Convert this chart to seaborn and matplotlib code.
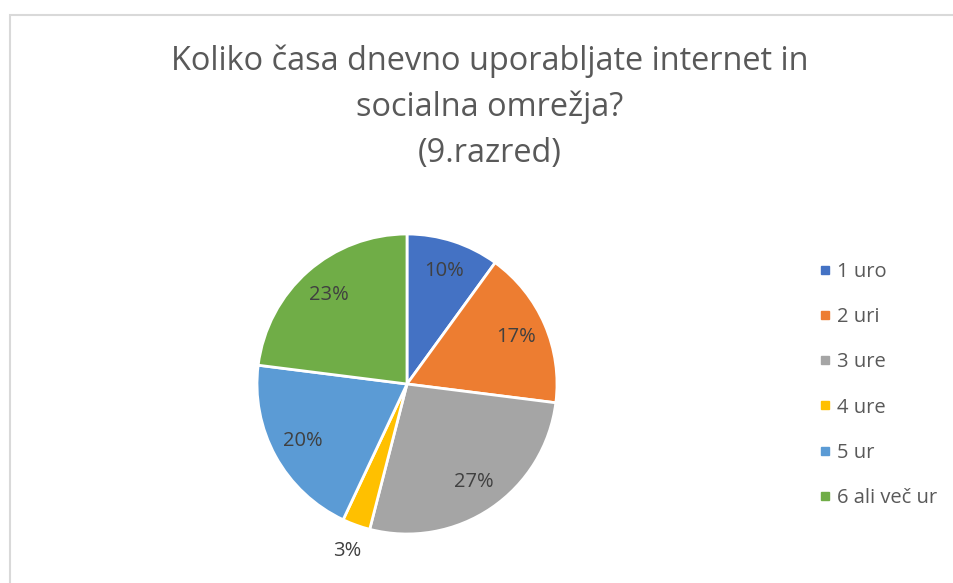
import matplotlib
matplotlib.use("Agg")
import matplotlib.pyplot as plt
from matplotlib.lines import Line2D
from matplotlib.patches import Rectangle
import numpy as np
import seaborn as sns

# Survey answers (share of pupils, %)
categories = ["1 uro", "2 uri", "3 ure", "4 ure", "5 ur", "6 ali več ur"]
shares = [10, 17, 27, 3, 20, 23]
colors = ["#4472C4", "#ED7D31", "#A5A5A5", "#FFC000", "#5B9BD5", "#70AD47"]
title = "Koliko časa dnevno uporabljate internet in\nsocialna omrežja?\n(9.razred)"

sns.set_theme(style="white")
plt.rcParams["font.family"] = ["Open Sans", "DejaVu Sans"]

W, H = 954, 583
fig = plt.figure(figsize=(W / 100, H / 100), dpi=100)
fig.patch.set_facecolor("white")

# chart frame (only its top and left edges fall inside the image)
fig.patches.append(Rectangle((10 / W, -0.1), 1.2, 1.1 - 15 / H,
                             transform=fig.transFigure, fill=False,
                             edgecolor="#D9D9D9", linewidth=1.5))

# pie axes: centre (407, 384) px, radius 150 px
cx, cy, r = 407, 384, 150
ax = fig.add_axes([(cx - r) / W, (H - cy - r) / H, 2 * r / W, 2 * r / H])
wedges, texts = ax.pie(shares, colors=colors, startangle=90, counterclock=False,
                       radius=1, wedgeprops=dict(edgecolor="white", linewidth=2))
ax.set_xlim(-1, 1)
ax.set_ylim(-1, 1)
ax.set_aspect("equal")
ax.axis("off")

for w, v in zip(wedges, shares):
    ang = np.deg2rad((w.theta1 + w.theta2) / 2)
    d = 1.18 if v < 5 else 0.79
    ax.text(d * np.cos(ang), d * np.sin(ang), f"{v}%", ha="center", va="center",
            fontsize=14.5, color="#404040")

fig.text(490 / W, 1 - 107 / H, title, ha="center", va="center",
         fontsize=23.4, color="#595959", linespacing=1.5)

handles = [Line2D([], [], marker="s", linestyle="none", markersize=6,
                  markerfacecolor=c, markeredgecolor=c) for c in colors]
leg = fig.legend(handles, categories, loc="upper left",
                 bbox_to_anchor=(819 / W, 1 - 262 / H), frameon=False,
                 fontsize=14.5, labelspacing=1.25, handlelength=0.6,
                 handletextpad=0.3, borderaxespad=0, borderpad=0)
for t in leg.get_texts():
    t.set_color("#595959")

fig.savefig("out.png", dpi=100, facecolor="white")
